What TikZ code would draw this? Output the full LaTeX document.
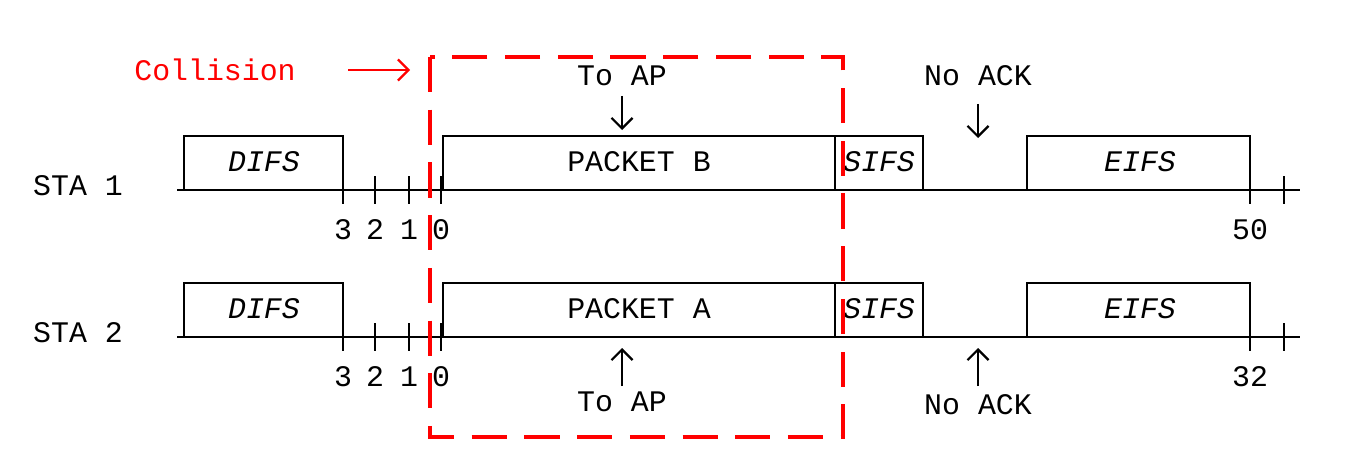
\documentclass[tikz,border=0pt]{standalone}
\usetikzlibrary{arrows.meta}
\usepackage{fontspec}
\setmainfont{Liberation Mono}
\begin{document}
\begin{tikzpicture}[x=0.02cm,y=-0.02cm,
 box/.style={draw,line width=1.3pt,inner sep=0pt},
 lbl/.style={font=\fontsize{17}{18}\selectfont},
 ar/.style={line width=1.3pt,-{Straight Barb[length=6pt,width=12pt]}}]
\useasboundingbox (0,0) rectangle (1348,466);
\foreach \y/\n/\e/\s in {190/1/50/B,337/2/32/A}{
 \draw[line width=1.3pt] (177,\y) -- (1300,\y);
 \foreach \x in {343,375,409,441,1250,1284} \draw[line width=1.3pt] (\x,\y-14) -- (\x,\y+14);
 \draw[box] (184,\y-54) rectangle (343,\y);
 \draw[box] (443,\y-54) rectangle (835,\y);
 \draw[box] (835,\y-54) rectangle (923,\y);
 \draw[box] (1027,\y-54) rectangle (1250,\y);
 \node[lbl] at (264,\y-28) {\textit{DIFS}};
 \node[lbl] at (639,\y-28) {PACKET \s};
 \node[lbl] at (879,\y-28) {\textit{SIFS}};
 \node[lbl] at (1140,\y-28) {\textit{EIFS}};
 \node[lbl] at (78,\y-4) {STA \n};
 \node[lbl] at (343,\y+40) {3};
 \node[lbl] at (375,\y+40) {2};
 \node[lbl] at (409,\y+40) {1};
 \node[lbl] at (441,\y+40) {0};
 \node[lbl] at (1250,\y+40) {\e};
}
\draw[red,line width=2.5pt,dash pattern=on 20pt off 10pt] (430,57) rectangle (843,437);
\node[lbl,red] (col) at (215,70) {Collision};
\draw[red,line width=1.3pt,-{Straight Barb[length=6pt,width=12pt]}] (348,70) -- (410,70);
\node[lbl] (t1) at (622,76) {To AP};
\draw[ar] (622,96) -- (622,130);
\node[lbl] (n1) at (978,76) {No ACK};
\draw[ar] (978,104) -- (978,138);
\node[lbl] (t2) at (622,402) {To AP};
\draw[ar] (622,386) -- (622,348);
\node[lbl] (n2) at (978,405) {No ACK};
\draw[ar] (978,386) -- (978,348);
\end{tikzpicture}
\end{document}
